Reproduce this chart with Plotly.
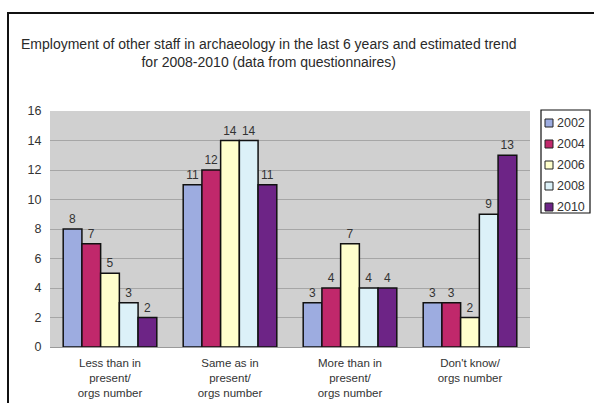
import plotly.graph_objects as go

categories = [
    "Less than in<br>present/<br>orgs number",
    "Same as in<br>present/<br>orgs number",
    "More than in<br>present/<br>orgs number",
    "Don't know/<br>orgs number",
]
years = ["2002", "2004", "2006", "2008", "2010"]
values_2002 = [8, 11, 3, 3]
values_2004 = [7, 12, 4, 3]
values_2006 = [5, 14, 7, 2]
values_2008 = [3, 14, 4, 9]
values_2010 = [2, 11, 4, 13]
series = [values_2002, values_2004, values_2006, values_2008, values_2010]
colors = ["#9dace0", "#c0286b", "#ffffcc", "#dcf1f8", "#6d2486"]

W, H = 594, 403
L, R, T, B = 50, 530, 111, 347  # plot area in pixels
FONT = "Arial, Liberation Sans"


def px_x(x):
    return (x - L) / (R - L)


def px_y(y):
    return (B - y) / (B - T)


fig = go.Figure()
for year, vals, col in zip(years, series, colors):
    fig.add_trace(go.Bar(
        x=categories, y=vals, name=year,
        marker=dict(color=col, line=dict(color="#111111", width=1.5)),
        text=[str(v) for v in vals], textposition="outside",
        textfont=dict(family=FONT, size=12, color="#333333"),
        cliponaxis=False, showlegend=False,
    ))

shapes = [
    # outer chart frame
    dict(type="rect", xref="paper", yref="paper",
         x0=px_x(8), x1=px_x(W + 20), y0=px_y(H + 20), y1=px_y(13),
         line=dict(color="#111111", width=2), fillcolor="rgba(0,0,0,0)", layer="below"),
    # legend box
    dict(type="rect", xref="paper", yref="paper",
         x0=px_x(541), x1=px_x(590), y0=px_y(213), y1=px_y(110),
         line=dict(color="#111111", width=1.2), fillcolor="white"),
]
annotations = []
for i, (year, col) in enumerate(zip(years, colors)):
    cy = 123 + i * 21
    shapes.append(dict(type="rect", xref="paper", yref="paper",
                       x0=px_x(545), x1=px_x(553), y0=px_y(cy + 4), y1=px_y(cy - 4),
                       line=dict(color="#222222", width=1), fillcolor=col))
    annotations.append(dict(xref="paper", yref="paper", x=px_x(555), y=px_y(cy),
                            xanchor="left", yanchor="middle", text=year, showarrow=False,
                            font=dict(family=FONT, size=12.5, color="#333333")))

annotations.append(dict(
    xref="paper", yref="paper", x=px_x(268), y=px_y(53), xanchor="center", yanchor="middle",
    text="Employment of other staff in archaeology in the last 6 years and estimated trend<br>"
         "for 2008-2010 (data from questionnaires)",
    showarrow=False, font=dict(family=FONT, size=14, color="#2a2a2a"),
))

fig.update_layout(
    width=W, height=H,
    margin=dict(l=L, r=W - R, t=T, b=H - B, autoexpand=False),
    paper_bgcolor="white", plot_bgcolor="#d0d0d0",
    barmode="group", bargap=0.22, bargroupgap=0,
    font=dict(family=FONT, size=12, color="#333333"),
    shapes=shapes, annotations=annotations,
    xaxis=dict(showgrid=False, showline=True, linecolor="#9a9a9a",
               ticks="outside", ticklen=5, tickcolor="rgba(0,0,0,0)",
               tickfont=dict(size=11.5, color="#333333")),
    yaxis=dict(range=[0, 16], dtick=2, showgrid=True, gridcolor="#a6a6a6", gridwidth=1,
               zeroline=False, showline=False,
               ticks="outside", ticklen=5, tickcolor="rgba(0,0,0,0)",
               tickfont=dict(size=12.5, color="#333333")),
)

fig.write_html("out.html")
